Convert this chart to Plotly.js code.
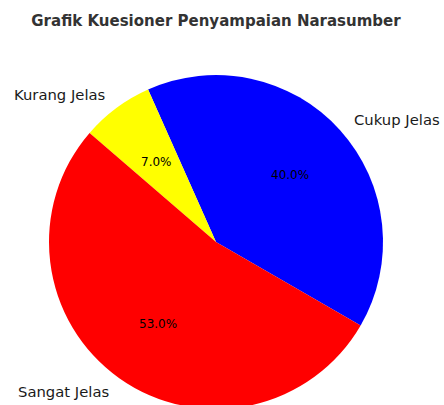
<!DOCTYPE html>
<html>
<head>
<meta charset="utf-8">
<script src="https://cdn.plot.ly/plotly-3.0.1.min.js"></script>
<style>html,body{margin:0;padding:0;overflow:hidden;background:#fff;}</style>
</head>
<body>
<div id="chart" style="width:444px;height:410px;"></div>
<script>
const labels = ["Cukup Jelas", "Kurang Jelas", "Sangat Jelas"];
const values = [40, 7, 53];
const colors = ["#0000ff", "#ffff00", "#ff0000"];
const titleText = "Grafik Kuesioner Penyampaian Narasumber";

const startAngle = -30; // degrees, math convention (counterclockwise from +x)
const W = 444, H = 410;
const margin = {l: 49, r: 61, t: 75, b: 1};

// annotation positions derived from the data (paper coords; pie centre (0.5,0.5), radius 0.5)
const total = values.reduce((a, b) => a + b, 0);
const annotations = [];
let acc = startAngle;
values.forEach((v, i) => {
  const span = v / total * 360;
  const mid = (acc + span / 2) * Math.PI / 180;
  acc += span;
  const cx = Math.cos(mid), cy = Math.sin(mid);
  annotations.push({
    xref: "paper", yref: "paper",
    x: 0.5 + 0.5 * 0.6 * cx, y: 0.5 + 0.5 * 0.6 * cy,
    text: (v / total * 100).toFixed(1) + "%",
    showarrow: false, xanchor: "center", yanchor: "middle",
    borderpad: 0,
    font: {family: "DejaVu Sans", size: 12, color: "#000"}
  });
  annotations.push({
    xref: "paper", yref: "paper",
    x: 0.5 + 0.5 * 1.1 * cx, y: 0.5 + 0.5 * 1.1 * cy,
    text: labels[i],
    showarrow: false, xanchor: cx > 0 ? "left" : "right", yanchor: "middle",
    borderpad: 0,
    font: {family: "DejaVu Sans", size: 14.8, color: "#1a1a1a"}
  });
});

const data = [{
  type: "pie",
  labels: labels,
  values: values,
  marker: {colors: colors, line: {width: 0}},
  sort: false,
  direction: "counterclockwise",
  rotation: 90 - startAngle - values[0] / total * 360,
  textinfo: "none",
  hoverinfo: "none",
  showlegend: false
}];

const layout = {
  width: W, height: H,
  margin: margin,
  paper_bgcolor: "#fff",
  plot_bgcolor: "#fff",
  showlegend: false,
  title: {
    text: "<b>" + titleText + "</b>",
    xref: "container", yref: "container",
    x: 216 / W, y: 1 - 21 / H,
    xanchor: "center", yanchor: "middle",
    font: {family: "DejaVu Sans", size: 15, color: "#333"}
  },
  annotations: annotations
};

Plotly.newPlot("chart", data, layout, {staticPlot: true, displayModeBar: false});
</script>
</body>
</html>
